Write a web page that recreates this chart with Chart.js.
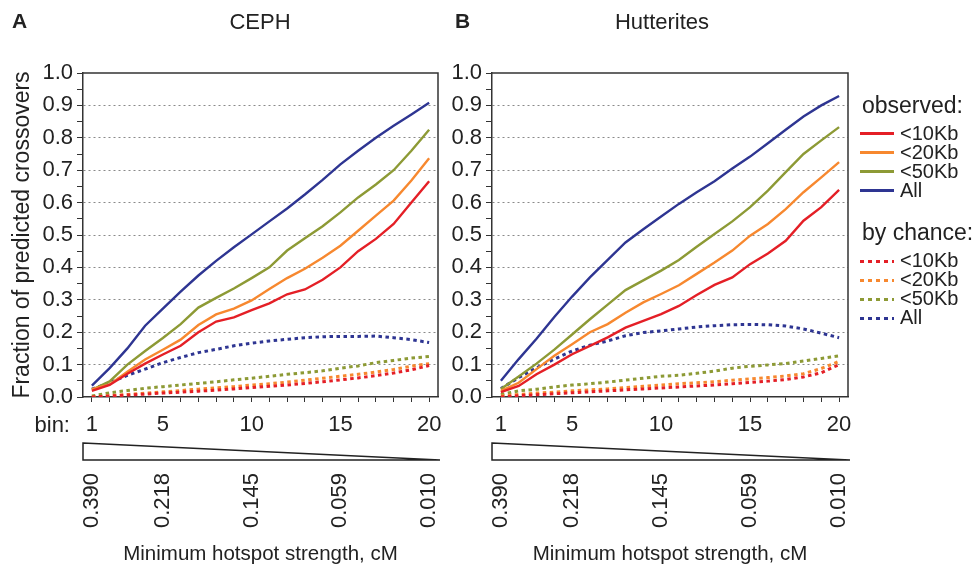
<!DOCTYPE html>
<html><head><meta charset="utf-8">
<script src="https://cdn.jsdelivr.net/npm/chart.js@4.4.1/dist/chart.umd.min.js"></script>
<style>
html,body{margin:0;padding:0;background:#fff;}
body{width:976px;height:568px;position:relative;overflow:hidden;font-family:'Liberation Sans',Arial,Helvetica,sans-serif;color:#222;}
.abs{position:absolute;white-space:nowrap;line-height:1;}
canvas{position:absolute;top:0;}
.sw{position:absolute;width:34px;height:2.5px;}
</style></head><body>
<canvas id="cA" width="468" height="568" style="left:0"></canvas>
<canvas id="cB" width="440" height="568" style="left:445px"></canvas>
<div class="abs" style="left:12px;top:10px;font-weight:bold;font-size:21px">A</div>
<div class="abs" style="left:455px;top:10px;font-weight:bold;font-size:21px">B</div>
<div class="abs" id="tA" style="left:260px;top:11px;font-size:22px;transform:translateX(-50%)"></div>
<div class="abs" id="tB" style="left:662px;top:11px;font-size:22px;transform:translateX(-50%)"></div>
<div class="abs" style="right:906px;top:414px;font-size:22px">bin:</div>
<div id="legend"></div>
<script>
// ---------- data ----------
const panelTitles = ['CEPH', 'Hutterites'];
const bins = [1,2,3,4,5,6,7,8,9,10,11,12,13,14,15,16,17,18,19,20];
const binLabelValues = [1,5,10,15,20];
const strengthBins = [1,5,10,15,20];
const strengthLabels = ['0.390','0.218','0.145','0.059','0.010'];
const yTickLabels = ['0.0','0.1','0.2','0.3','0.4','0.5','0.6','0.7','0.8','0.9','1.0'];
const seriesNames = ['<10Kb','<20Kb','<50Kb','All'];
const seriesColors = ['#e41f26','#f7882f','#8d9a35','#2e3592'];

// CEPH observed
const cephObs10  = [0.019,0.037,0.072,0.103,0.131,0.158,0.200,0.233,0.246,0.268,0.289,0.317,0.332,0.362,0.400,0.450,0.488,0.534,0.600,0.666];
const cephObs20  = [0.024,0.039,0.078,0.116,0.146,0.177,0.222,0.255,0.273,0.298,0.333,0.367,0.396,0.430,0.467,0.513,0.560,0.606,0.668,0.737];
const cephObs50  = [0.022,0.048,0.100,0.142,0.182,0.225,0.276,0.306,0.335,0.367,0.400,0.452,0.490,0.527,0.570,0.616,0.656,0.700,0.760,0.825];
const cephObsAll = [0.035,0.089,0.150,0.220,0.273,0.325,0.375,0.420,0.462,0.502,0.542,0.582,0.625,0.670,0.718,0.760,0.800,0.837,0.872,0.908];
// CEPH by chance
const cephCh10  = [0.000,0.003,0.006,0.009,0.012,0.015,0.018,0.021,0.025,0.029,0.033,0.037,0.042,0.047,0.053,0.059,0.066,0.074,0.084,0.097];
const cephCh20  = [0.000,0.004,0.008,0.012,0.016,0.020,0.024,0.028,0.032,0.037,0.041,0.046,0.052,0.058,0.064,0.070,0.077,0.085,0.095,0.103];
const cephCh50  = [0.003,0.013,0.020,0.027,0.032,0.037,0.042,0.047,0.053,0.058,0.064,0.070,0.075,0.081,0.089,0.096,0.106,0.113,0.120,0.125];
const cephChAll = [0.024,0.044,0.067,0.086,0.106,0.122,0.137,0.147,0.158,0.166,0.173,0.178,0.183,0.186,0.187,0.187,0.188,0.183,0.177,0.168];

// Hutterites observed
const hutObs10  = [0.015,0.034,0.070,0.100,0.132,0.158,0.184,0.214,0.235,0.256,0.281,0.315,0.346,0.369,0.410,0.443,0.482,0.544,0.586,0.639];
const hutObs20  = [0.019,0.044,0.086,0.127,0.163,0.200,0.225,0.260,0.292,0.318,0.345,0.380,0.415,0.452,0.498,0.534,0.580,0.632,0.678,0.725];
const hutObs50  = [0.025,0.063,0.103,0.146,0.193,0.240,0.285,0.330,0.360,0.390,0.423,0.464,0.503,0.542,0.586,0.637,0.694,0.750,0.792,0.833];
const hutObsAll = [0.050,0.117,0.180,0.247,0.310,0.369,0.423,0.477,0.518,0.557,0.596,0.632,0.666,0.705,0.742,0.783,0.825,0.866,0.900,0.929];
// Hutterites by chance
const hutCh10  = [0.000,0.004,0.007,0.010,0.013,0.016,0.019,0.022,0.025,0.028,0.031,0.034,0.037,0.041,0.045,0.049,0.054,0.062,0.075,0.100];
const hutCh20  = [0.003,0.008,0.012,0.015,0.019,0.022,0.025,0.029,0.033,0.037,0.041,0.044,0.047,0.052,0.056,0.060,0.065,0.072,0.088,0.110];
const hutCh50  = [0.008,0.019,0.024,0.031,0.037,0.041,0.046,0.052,0.058,0.064,0.067,0.073,0.080,0.089,0.095,0.099,0.103,0.111,0.119,0.127];
const hutChAll = [0.026,0.060,0.090,0.117,0.142,0.160,0.173,0.189,0.199,0.204,0.210,0.216,0.220,0.223,0.224,0.223,0.219,0.210,0.197,0.183];

// ---------- build ----------
const FONT = "'Liberation Sans', Arial, sans-serif";
const TEXT = '#222';

function makeDatasets(obs, chance) {
  const ds = [];
  obs.forEach((arr, i) => ds.push({
    label: 'observed ' + seriesNames[i],
    data: bins.map((b, j) => ({x: b, y: arr[j]})),
    borderColor: seriesColors[i], borderWidth: 2.4, pointRadius: 0, tension: 0, fill: false
  }));
  chance.forEach((arr, i) => ds.push({
    label: 'by chance ' + seriesNames[i],
    data: bins.map((b, j) => ({x: b, y: arr[j]})),
    borderColor: seriesColors[i], borderWidth: 3, borderDash: [3.5, 3.5], borderCapStyle: 'butt',
    pointRadius: 0, tension: 0, fill: false
  }));
  return ds;
}

const framePlugin = {
  id: 'frameWedge',
  afterDraw(chart) {
    const {ctx, chartArea: a, scales} = chart;
    ctx.save();
    ctx.strokeStyle = '#333'; ctx.lineWidth = 1.5;
    ctx.beginPath();
    ctx.moveTo(a.left, a.top); ctx.lineTo(a.right, a.top); ctx.lineTo(a.right, a.bottom);
    ctx.stroke();
    const sx = scales.x;
    const l = sx.getPixelForValue(sx.min), r = sx.getPixelForValue(sx.max) + 2;
    const t = sx.top + 46, b = sx.top + 63;
    ctx.beginPath();
    ctx.moveTo(l, t); ctx.lineTo(r, b); ctx.lineTo(l, b); ctx.closePath();
    ctx.fillStyle = '#fff'; ctx.fill();
    ctx.strokeStyle = '#222'; ctx.lineWidth = 1.5; ctx.stroke();
    ctx.restore();
  }
};

function makeChart(id, obs, chance, yWidth, padRight, showYTitle) {
  return new Chart(document.getElementById(id), {
    type: 'line',
    data: {datasets: makeDatasets(obs, chance)},
    plugins: [framePlugin],
    options: {
      responsive: false, animation: false,
      layout: {padding: {top: 73, right: padRight, left: 0, bottom: 0}},
      plugins: {legend: {display: false}, tooltip: {enabled: false}, title: {display: false}},
      scales: {
        y: {
          type: 'linear', min: 0, max: 1,
          afterFit(s) { s.width = yWidth; },
          ticks: {
            stepSize: 0.05, autoSkip: false, padding: 4, color: TEXT,
            font: {family: FONT, size: 22},
            callback: (v, i) => (i % 2 === 0 ? yTickLabels[i / 2] : '')
          },
          grid: {
            color: c => (c.index % 2 === 0 && c.index > 0 && c.index < 20) ? '#8a8a8a' : 'rgba(0,0,0,0)',
            tickColor: '#333', tickLength: 6, lineWidth: 1
          },
          border: {display: true, color: '#333', width: 1.5, dash: [2, 3]},
          title: {display: showYTitle, text: 'Fraction of predicted crossovers', color: TEXT,
                  font: {family: FONT, size: 23}, padding: {top: 9, bottom: 0}}
        },
        x: {
          type: 'linear', min: 0.5, max: 20.5, position: 'bottom', weight: 0,
          afterFit(s) { s.height = 76; },
          afterBuildTicks(s) { s.ticks = bins.map(v => ({value: v})); },
          ticks: {
            autoSkip: false, maxRotation: 0, minRotation: 0, padding: 10, color: TEXT,
            font: {family: FONT, size: 22},
            callback: v => (binLabelValues.includes(v) ? String(v) : '')
          },
          grid: {drawOnChartArea: false, color: '#333', tickLength: 5, lineWidth: 1},
          border: {display: true, color: '#333', width: 1.5}
        },
        x2: {
          type: 'linear', min: 0.5, max: 20.5, position: 'bottom', weight: 1,
          afterFit(s) { s.height = 568 - 473; },
          afterBuildTicks(s) { s.ticks = strengthBins.map(v => ({value: v})); },
          ticks: {
            autoSkip: false, maxRotation: 90, minRotation: 90, padding: 0, color: TEXT,
            font: {family: FONT, size: 22},
            callback: v => strengthLabels[strengthBins.indexOf(v)]
          },
          grid: {display: false, drawTicks: false, drawOnChartArea: false},
          border: {display: false},
          title: {display: true, text: 'Minimum hotspot strength, cM', color: TEXT,
                  font: {family: FONT, size: 20.5}, padding: {top: 0, bottom: 1}}
        }
      }
    }
  });
}

makeChart('cA', [cephObs10, cephObs20, cephObs50, cephObsAll], [cephCh10, cephCh20, cephCh50, cephChAll], 83, 30, true);
makeChart('cB', [hutObs10, hutObs20, hutObs50, hutObsAll], [hutCh10, hutCh20, hutCh50, hutChAll], 47, 37, false);

document.getElementById('tA').textContent = panelTitles[0];
document.getElementById('tB').textContent = panelTitles[1];

// ---------- HTML legend built from series ----------
const lg = document.getElementById('legend');
function addText(txt, left, baseline, size) {
  const d = document.createElement('div');
  d.className = 'abs'; d.textContent = txt;
  d.style.left = left + 'px'; d.style.fontSize = size + 'px';
  d.style.top = (baseline - 0.8465 * size) + 'px';
  lg.appendChild(d);
}
function addSwatch(color, top, dotted) {
  const s = document.createElement('div');
  s.className = 'sw';
  s.style.left = '860px'; s.style.top = (top - 1.3) + 'px';
  if (dotted) { s.style.height = '3px'; s.style.background = `repeating-linear-gradient(90deg, ${color} 0 4px, transparent 4px 8px)`; }
  else s.style.background = color;
  lg.appendChild(s);
}
addText('observed:', 862, 113, 23);
seriesNames.forEach((n, i) => { addSwatch(seriesColors[i], 133.5 + 19 * i, false); addText(n, 900, 140 + 19 * i, 20); });
addText('by chance:', 862, 240, 23);
seriesNames.forEach((n, i) => { addSwatch(seriesColors[i], 261 + 19 * i, true); addText(n, 900, 267 + 19 * i, 20); });
</script>
</body></html>
